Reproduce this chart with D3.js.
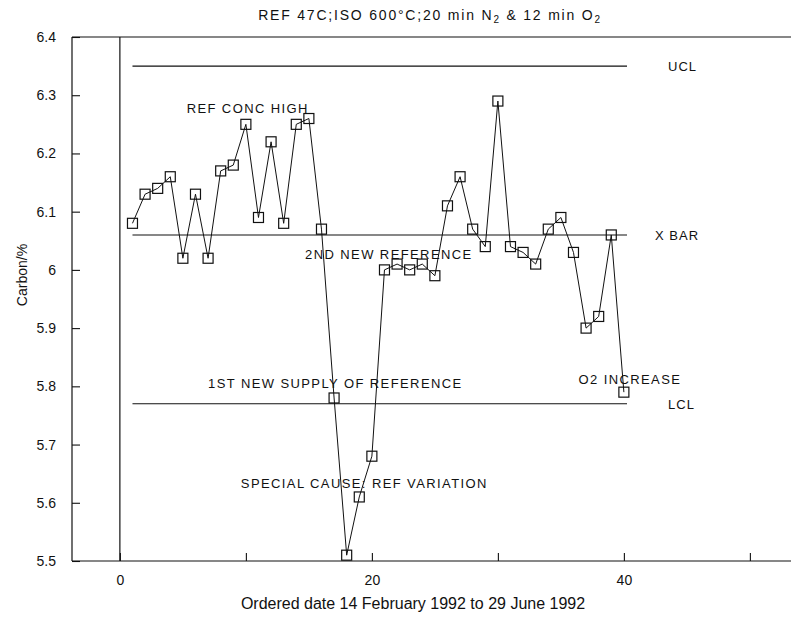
<!DOCTYPE html>
<html>
<head>
<meta charset="utf-8">
<script src="https://cdn.jsdelivr.net/npm/d3@7"></script>
<style>
  html, body { margin: 0; padding: 0; background: #fff; }
  svg { display: block; }
  text { font-family: "Liberation Sans", Arial, sans-serif; fill: #111; }
</style>
</head>
<body>
<svg id="chart" width="791" height="621"></svg>
<script>
// ---- data ----
const order = [1,2,3,4,5,6,7,8,9,10,11,12,13,14,15,16,17,18,19,20,21,22,23,24,25,26,27,28,29,30,31,32,33,34,35,36,37,38,39,40];
const carbon = [6.08,6.13,6.14,6.16,6.02,6.13,6.02,6.17,6.18,6.25,6.09,6.22,6.08,6.25,6.26,6.07,5.78,5.51,5.61,5.68,6.00,6.01,6.00,6.01,5.99,6.11,6.16,6.07,6.04,6.29,6.04,6.03,6.01,6.07,6.09,6.03,5.90,5.92,6.06,5.79];
const controlNames = ["UCL", "X BAR", "LCL"];
const controlValues = [6.35, 6.06, 5.77];
const controlSpan = [1, 40.25];
const yTicks = [5.5,5.6,5.7,5.8,5.9,6,6.1,6.2,6.3,6.4];
const xTicks = [0,10,20,30,40,50];
const xTickLabels = ["0","","20","","40",""];
const notes = ["REF CONC HIGH","2ND NEW REFERENCE","1ST NEW SUPPLY OF REFERENCE","SPECIAL CAUSE: REF VARIATION","O2 INCREASE"];
const noteAt = [[5.3,6.269],[14.7,6.019],[7,5.797],[9.6,5.625],[36.4,5.804]];

// ---- layout ----
const svg = d3.select("#chart");
const padL = 72, padT = 37, padB = 561;
const x = d3.scaleLinear().domain([-3.8, 56]).range([padL, padL + 59.8 * 12.6]);
const y = d3.scaleLinear().domain([5.5, 6.4]).range([padB, padT]);

// frame
svg.append("line").attr("x1", padL).attr("x2", 800).attr("y1", padT).attr("y2", padT).attr("stroke", "#111").attr("stroke-width", 1.2);
svg.append("line").attr("x1", padL).attr("x2", padL).attr("y1", padT).attr("y2", padB).attr("stroke", "#111").attr("stroke-width", 1.2);
// zero vertical line
svg.append("line").attr("x1", x(0)).attr("x2", x(0)).attr("y1", padT).attr("y2", padB).attr("stroke", "#111").attr("stroke-width", 1.2);

// y axis
const yAxis = d3.axisLeft(y).tickValues(yTicks).tickSize(-8).tickPadding(16).tickFormat(d3.format("~g"));
const gy = svg.append("g").attr("transform", `translate(${padL},0)`).call(yAxis);
gy.select(".domain").remove();
gy.selectAll(".tick line").attr("stroke", "#111").attr("stroke-width", 1.1);
gy.selectAll(".tick text").attr("font-size", 14).attr("fill", "#111").attr("font-family", "Liberation Sans, Arial, sans-serif");

// x axis
const xAxis = d3.axisBottom(x).tickValues(xTicks).tickSize(-8).tickPadding(14).tickFormat((d, i) => xTickLabels[i]);
const gx = svg.append("g").attr("transform", `translate(0,${padB})`).call(xAxis);
gx.select(".domain").attr("d", `M${padL},0H800`).attr("stroke", "#111").attr("stroke-width", 1.2);
gx.selectAll(".tick line").attr("stroke", "#111").attr("stroke-width", 1.1);
gx.selectAll(".tick text").attr("font-size", 14).attr("fill", "#111").attr("font-family", "Liberation Sans, Arial, sans-serif");

// control lines
controlValues.forEach((v, i) => {
  svg.append("line").attr("x1", x(controlSpan[0])).attr("x2", x(controlSpan[1]))
    .attr("y1", y(v)).attr("y2", y(v)).attr("stroke", "#111").attr("stroke-width", 1.1);
  svg.append("text").attr("x", x(controlSpan[1]) + (i === 1 ? 28 : 41)).attr("y", y(v) + 5)
    .attr("font-size", 13).attr("letter-spacing", 1).text(controlNames[i]);
});

// data line
const pts = order.map((d, i) => [d, carbon[i]]);
svg.append("path").datum(pts)
  .attr("d", d3.line().x(d => x(d[0])).y(d => y(d[1])))
  .attr("fill", "none").attr("stroke", "#111").attr("stroke-width", 1);
const s = 10;
svg.selectAll("rect.pt").data(pts).join("rect").attr("class", "pt")
  .attr("x", d => x(d[0]) - s/2).attr("y", d => y(d[1]) - s/2)
  .attr("width", s).attr("height", s)
  .attr("fill", "none").attr("stroke", "#111").attr("stroke-width", 1.2);

// annotations
notes.forEach((t, i) => {
  svg.append("text").attr("x", x(noteAt[i][0])).attr("y", y(noteAt[i][1]))
    .attr("font-size", 13).attr("letter-spacing", 1.4).text(t);
});

// titles
svg.append("text").attr("x", 430).attr("y", 20).attr("text-anchor", "middle").attr("font-size", 14).attr("letter-spacing", 1.8)
  .html('REF 47C;ISO 600°C;20 min N<tspan font-size="10" dy="3">2</tspan><tspan dy="-3"> &amp; 12 min O</tspan><tspan font-size="10" dy="3">2</tspan>');
svg.append("text").attr("transform", "translate(27,275) rotate(-90)").attr("text-anchor", "middle").attr("font-size", 14).text("Carbon/%");
svg.append("text").attr("x", 413).attr("y", 609).attr("text-anchor", "middle").attr("font-size", 16).text("Ordered date 14 February 1992 to 29 June 1992");
</script>
</body>
</html>
